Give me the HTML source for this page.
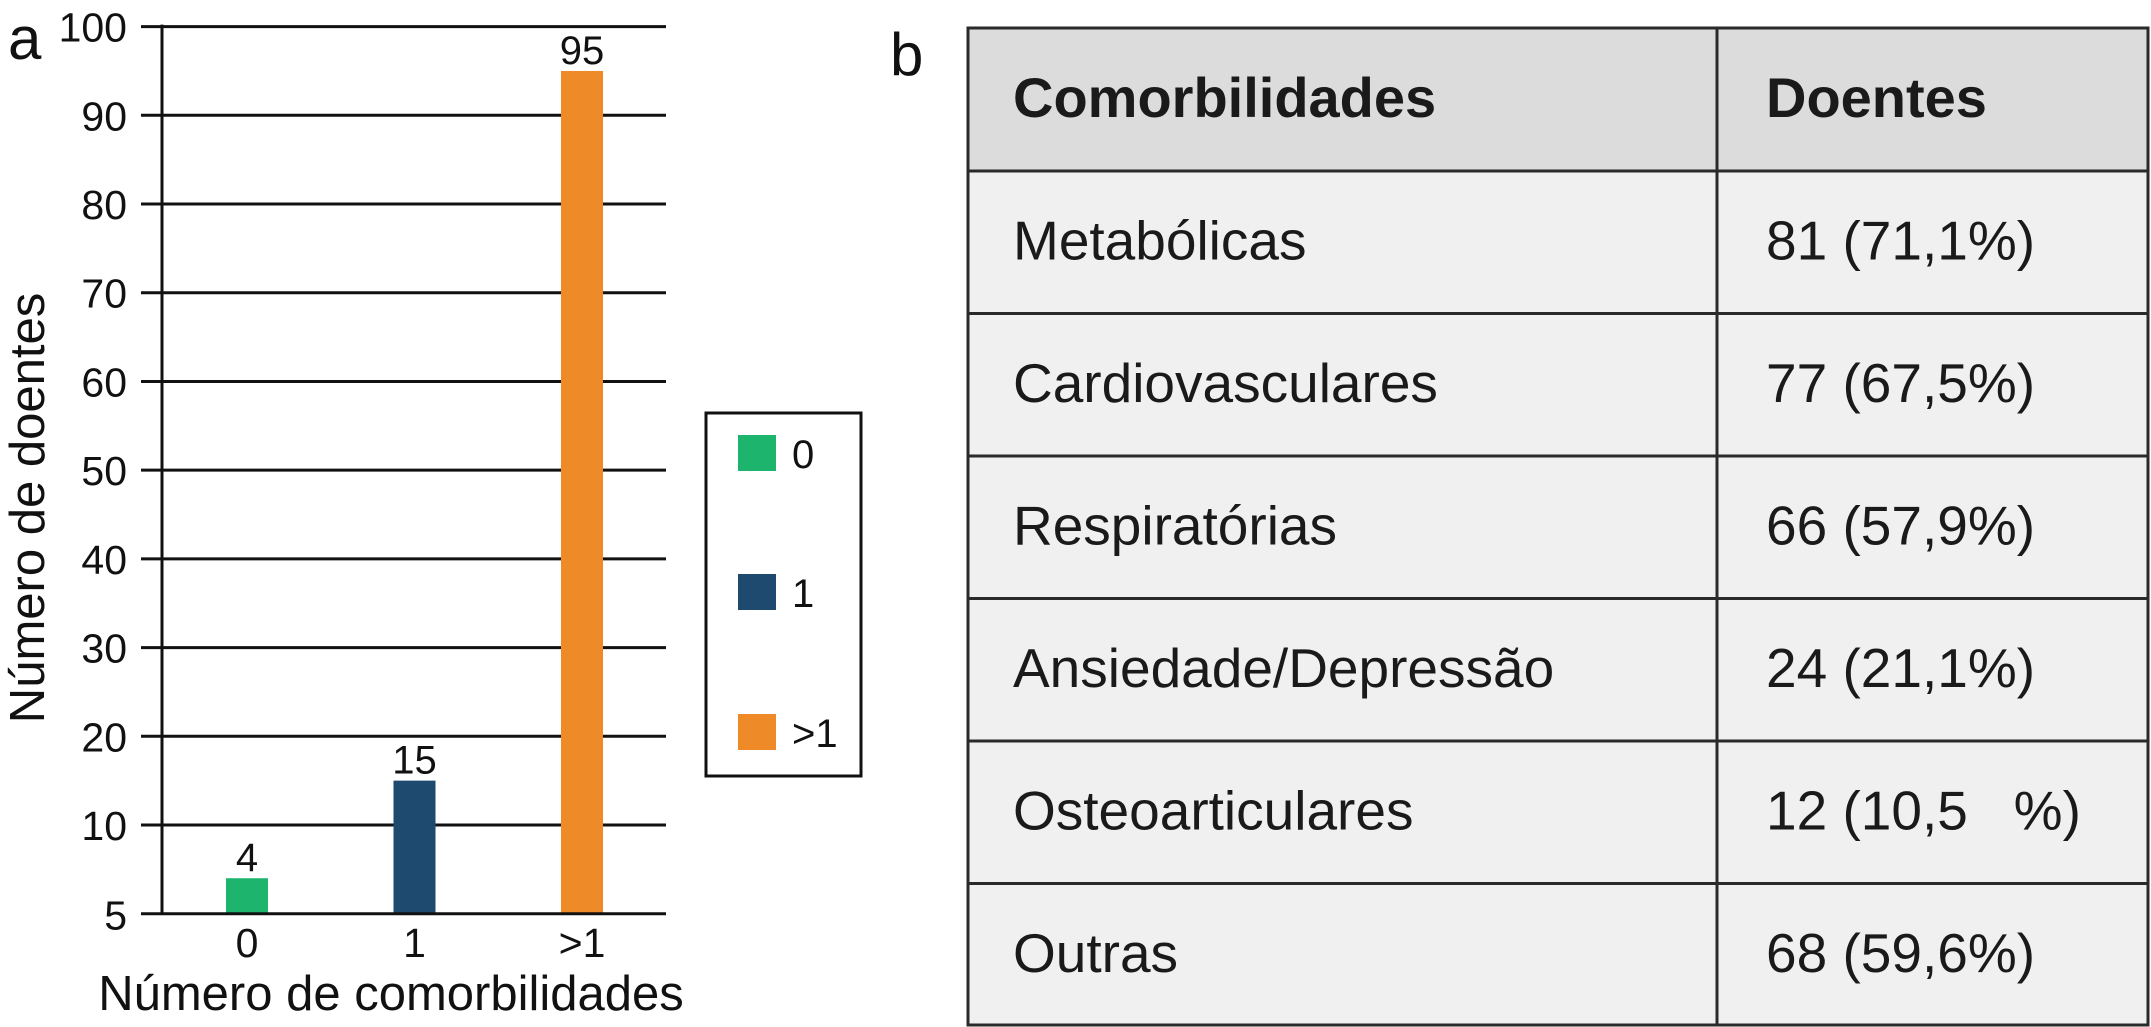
<!DOCTYPE html>
<html><head><meta charset="utf-8"><style>
body{margin:0;background:#fff;}
svg{display:block;font-family:"Liberation Sans",Arial,sans-serif;}
</style></head><body>
<svg width="2151" height="1027" viewBox="0 0 2151 1027">
<g id="chart"></g>
<g id="tbl"></g>
</svg>
<script>
const categories = ["0", "1", ">1"];
const values = [4, 15, 95];
const colors = ["#1db56e", "#1d4a6e", "#ee8a27"];
const yTicks = [10, 20, 30, 40, 50, 60, 70, 80, 90, 100];
const yTickLabels = ["10","20","30","40","50","60","70","80","90","100"];
const tableCats = ["Metabólicas","Cardiovasculares","Respiratórias","Ansiedade/Depressão","Osteoarticulares","Outras"];
const tableVals = ["81 (71,1%)","77 (67,5%)","66 (57,9%)","24 (21,1%)","12 (10,5\u00a0\u00a0 %)","68 (59,6%)"];

const NS="http://www.w3.org/2000/svg";
function mk(parent,tag,attrs,text){const e=document.createElementNS(NS,tag);for(const k in attrs)e.setAttribute(k,attrs[k]);if(text!==undefined)e.textContent=text;parent.appendChild(e);return e;}
const g=document.getElementById('chart');
const y0=913.7,y100=26.6;
const yS=v=>y0-(y0-y100)*v/100;
const xS=i=>247+i*167.5;
yTicks.forEach((t,i)=>{
  const l=mk(g,'line',{x1:141,x2:666,y1:yS(t),y2:yS(t),stroke:'#111','stroke-width':3});
  
  
  const tx=mk(g,'text',{x:127,y:yS(t)+15,'text-anchor':'end','font-size':41,fill:'#111'},yTickLabels[i]);
  
  
});
const z=mk(g,'text',{x:127,y:y0+16,'text-anchor':'end','font-size':41,fill:'#111'},'5');


values.forEach((v,i)=>{
  const b=mk(g,'rect',{x:xS(i)-21,y:yS(v),width:42,height:y0-yS(v),fill:colors[i]});
  
  
  const vl=mk(g,'text',{x:xS(i),y:yS(v)-7,'text-anchor':'middle','font-size':40,fill:'#111'},String(v));
  
  
  const xl=mk(g,'text',{x:xS(i),y:957,'text-anchor':'middle','font-size':41,fill:'#111'},categories[i]);
  
  
});
const xa=mk(g,'line',{x1:141,x2:666,y1:y0,y2:y0,stroke:'#111','stroke-width':3});


const ya=mk(g,'line',{x1:162,x2:162,y1:y100-2,y2:y0+1,stroke:'#111','stroke-width':3});


const xt=mk(g,'text',{x:391,y:1010,'text-anchor':'middle','font-size':49,fill:'#111'},'Número de comorbilidades');


const yt=mk(g,'text',{x:0,y:0,'text-anchor':'middle','font-size':49,fill:'#111',transform:'translate(44,508) rotate(-90)'},'Número de doentes');


const pa=mk(g,'text',{x:8,y:59,'font-size':60,fill:'#111'},'a');


const lb=mk(g,'rect',{x:706,y:413,width:155,height:363,fill:'#fff',stroke:'#111','stroke-width':3});


const ly=[435,574,714];
categories.forEach((c,i)=>{
  const s=mk(g,'rect',{x:738,y:ly[i],width:38,height:36,fill:colors[i]});
  
  
  const t=mk(g,'text',{x:792,y:ly[i]+33,'font-size':40,fill:'#111'},c);
  
  
});
const T=document.getElementById('tbl');
const L=968,M=1717,R=2148,tblTop=28,rowH=142.5,hdrB=171;
const hb=mk(T,'rect',{x:L,y:tblTop,width:R-L,height:hdrB-tblTop,fill:'#dcdcdd'});


const bb=mk(T,'rect',{x:L,y:hdrB,width:R-L,height:1026-hdrB,fill:'#f0f0f0'});


const h1=mk(T,'text',{x:1013,y:117,'font-size':56,'font-weight':'bold',fill:'#1a1a1a'},'Comorbilidades');


const h2=mk(T,'text',{x:1766,y:117,'font-size':56,'font-weight':'bold',fill:'#1a1a1a'},'Doentes');


tableCats.forEach((c,i)=>{
  const yb=hdrB+i*rowH+rowH*0.62;
  const a=mk(T,'text',{x:1013,y:yb,'font-size':55,fill:'#1a1a1a'},c);
  
  
  const b=mk(T,'text',{x:1766,y:yb,'font-size':55,fill:'#1a1a1a'},tableVals[i]);
  
  
  const l=mk(T,'line',{x1:L,x2:R,y1:hdrB+i*rowH,y2:hdrB+i*rowH,stroke:'#2a2a2a','stroke-width':3});
  
  
});
const ob=mk(T,'rect',{x:L,y:tblTop,width:R-L,height:1025-tblTop,fill:'none',stroke:'#2a2a2a','stroke-width':3});


const cd=mk(T,'line',{x1:M,x2:M,y1:tblTop,y2:1026,stroke:'#2a2a2a','stroke-width':3});


const pb=mk(T,'text',{x:890,y:75,'font-size':60,fill:'#111'},'b');


</script>
</body></html>
